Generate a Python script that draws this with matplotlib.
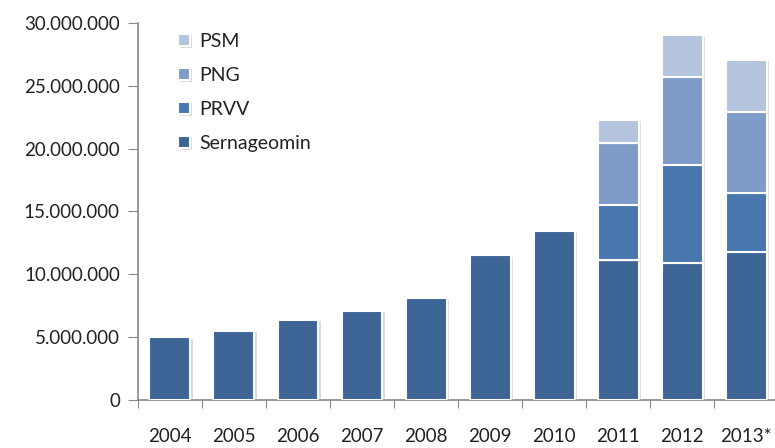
import matplotlib
matplotlib.use("Agg")
import matplotlib.pyplot as plt
import matplotlib.patheffects as pe
import numpy as np
from matplotlib.ticker import FuncFormatter

years = ["2004", "2005", "2006", "2007", "2008", "2009", "2010", "2011", "2012", "2013*"]
sernageomin = [5.0e6, 5.5e6, 6.4e6, 7.1e6, 8.1e6, 11.5e6, 13.45e6, 11.1e6, 10.9e6, 11.8e6]
prvv = [0, 0, 0, 0, 0, 0, 0, 4.45e6, 7.8e6, 4.7e6]
png = [0, 0, 0, 0, 0, 0, 0, 4.9e6, 7.0e6, 6.4e6]
psm = [0, 0, 0, 0, 0, 0, 0, 1.85e6, 3.3e6, 4.15e6]

series = [("Sernageomin", sernageomin, "#3d6596"),
          ("PRVV", prvv, "#4877af"),
          ("PNG", png, "#7f9bc7"),
          ("PSM", psm, "#b4c3de")]

plt.rcParams['font.family'] = ['Lato', 'DejaVu Sans']

fig = plt.figure(figsize=(7.75, 4.48), dpi=100)
ax = fig.add_axes([0.178, 0.107, 0.826, 0.842])

x = np.arange(len(years))
bottom = np.zeros(len(years))
handles = []
for name, vals, col in series:
    vals = np.array(vals)
    mask = vals > 0
    bars = ax.bar(x[mask], vals[mask], 0.64, bottom=bottom[mask], color=col,
                  edgecolor="white", linewidth=1.5, label=name, zorder=3)
    for b in bars:
        b.set_path_effects([pe.SimplePatchShadow(offset=(1.5, -1), shadow_rgbFace="#999999", alpha=0.35),
                            pe.Normal()])
    handles.append(bars)
    bottom = bottom + vals

ax.set_xlim(-0.5, len(years) - 0.5)
ax.set_ylim(0, 30e6)
ax.set_yticks(np.arange(0, 30e6 + 1, 5e6))
ax.yaxis.set_major_formatter(FuncFormatter(lambda v, p: "0" if v == 0 else f"{int(v):,}".replace(",", ".")))

ax.set_xticks(np.arange(-0.5, len(years), 1.0))
ax.set_xticklabels([])
ax.set_xticks(x, minor=True)
ax.set_xticklabels(years, minor=True)
ax.tick_params(axis="x", which="major", length=6, color="#888888", direction="out")
ax.tick_params(axis="x", which="minor", length=0, pad=20, labelsize=13.5, labelcolor="#222222")
ax.tick_params(axis="y", length=7, color="#888888", labelsize=13.5, labelcolor="#222222", pad=6)

for s in ["top", "right"]:
    ax.spines[s].set_visible(False)
for s in ["left", "bottom"]:
    ax.spines[s].set_color("#888888")
    ax.spines[s].set_linewidth(1.2)

leg = ax.legend(handles[::-1], [s[0] for s in series][::-1], loc="upper left",
                bbox_to_anchor=(0.035, 1.02), frameon=False, fontsize=14,
                handlelength=0.6, handleheight=0.6, handletextpad=0.5, labelspacing=0.88)
for t in leg.get_texts():
    t.set_color("#222222")

fig.savefig("out.png", dpi=100)
